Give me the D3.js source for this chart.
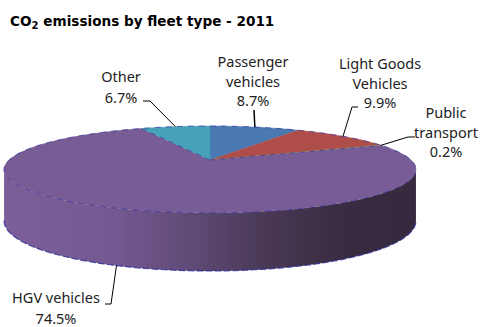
<!DOCTYPE html>
<html>
<head>
<meta charset="utf-8">
<script src="https://cdn.jsdelivr.net/npm/d3@7"></script>
<style>
  html, body { margin: 0; padding: 0; background: #fff; }
  svg { display: block; }
  text { font-family: "Noto Sans", sans-serif; font-size: 14.5px; fill: #222; }
  .title, .title tspan { font-family: "DejaVu Sans", sans-serif; font-weight: 700; font-size: 13.6px; fill: #000; }
</style>
</head>
<body>
<script>
// Share of CO2 emissions per fleet type, clockwise from twelve o'clock
const categories = ["Passenger vehicles", "Light Goods Vehicles", "Public transport", "HGV vehicles", "Other"];
const shares = [8.7, 9.9, 0.2, 74.5, 6.7];
const colours = ["#4b7ab3", "#ae4d49", "#8a9a4f", "#775c96", "#47a1b9"];

// Label text lines for each slice
const labelLines = [
  ["Passenger", "vehicles", "8.7%"],
  ["Light Goods", "Vehicles", "9.9%"],
  ["Public", "transport", "0.2%"],
  ["HGV vehicles", "74.5%"],
  ["Other", "6.7%"]
];
// Where each label block sits: centre x, first baseline y
const labelX = [253, 380, 446, 56, 121];
const labelY = [67, 69, 118, 303, 82];
// Leader line elbow: text end, then bend
const elbowA = [[254, 110], [358, 107], [415, 137], [105, 304], [143, 101]];
const elbowB = [[254, 110], [352, 107], [408, 137], [111, 304], [150, 101]];

const width = 480, height = 327;
const svg = d3.select("body").append("svg").attr("width", width).attr("height", height);

// Tilted disc seen in perspective: the far side shrinks, the near side grows
const cx = 210, cy = 160, radiusX = 201, radiusY = 41.4, persp = 0.218;
const project = a => {
  const u = Math.sin(a), v = Math.cos(a), w = 1 + persp * v;
  return [cx + radiusX * u / w, cy - radiusY * v / w];
};
const rimDepth = d3.scaleLinear().domain([-1, -0.2]).range([58, 51]).clamp(true);
const projectBase = a => {
  const [x, y] = project(a);
  return [x, y + rimDepth(Math.cos(a))];
};

const line = d3.line();
const arcPoints = (a0, a1, fn) => {
  const n = Math.max(2, Math.ceil(Math.abs(a1 - a0) / 0.02));
  return d3.range(n + 1).map(i => fn(a0 + (a1 - a0) * i / n));
};

const slices = d3.pie().sort(null).value(d => d)(shares);

// Visible rim runs between the two silhouette angles of the disc
const rimStart = Math.acos(-persp), rimEnd = 2 * Math.PI - rimStart;

const defs = svg.append("defs");
const grad = defs.append("linearGradient")
  .attr("id", "rimShade").attr("gradientUnits", "userSpaceOnUse")
  .attr("x1", 5).attr("x2", 417).attr("y1", 0).attr("y2", 0);
[[0, "#7a5f98"], [0.27, "#745892"], [0.47, "#5d4973"], [0.62, "#4a3a58"], [0.82, "#392b40"], [1, "#362a3e"]]
  .forEach(([o, c]) => grad.append("stop").attr("offset", o).attr("stop-color", c));

// Rim wall
const rimTop = arcPoints(rimStart, rimEnd, project);
const rimBase = arcPoints(rimEnd, rimStart, projectBase);
svg.append("path")
  .attr("d", line(rimTop.concat(rimBase)) + "Z")
  .attr("fill", "url(#rimShade)");
svg.append("path")
  .attr("d", line(rimBase))
  .attr("fill", "none").attr("stroke", "#2a2a96").attr("stroke-width", 1.2)
  .attr("stroke-dasharray", "7 2").attr("stroke-opacity", 0.8);

// Top face slices
svg.append("g").selectAll("path").data(slices).join("path")
  .attr("d", d => line([[cx, cy]].concat(arcPoints(d.startAngle, d.endAngle, project))) + "Z")
  .attr("fill", (d, i) => colours[i])
  .attr("stroke", (d, i) => colours[i]).attr("stroke-width", 0.4);

// Navy flecks along the slice edges and outer rim
svg.append("path")
  .attr("d", line(arcPoints(0, 2 * Math.PI, project)))
  .attr("fill", "none").attr("stroke", "#2f2f9c").attr("stroke-width", 1)
  .attr("stroke-dasharray", "6 5").attr("stroke-opacity", 0.65);
svg.append("g").selectAll("path").data(slices.slice(2, 4)).join("path")
  .attr("d", d => line([[cx, cy], project(d.endAngle)]))
  .attr("fill", "none").attr("stroke", "#2f2f9c").attr("stroke-width", 0.9)
  .attr("stroke-dasharray", "5 5").attr("stroke-opacity", 0.7);

// Leader lines end at each slice's mid-angle on the disc edge
const leaderEnd = (d, i) => {
  const mid = (d.startAngle + d.endAngle) / 2;
  return categories[i] === "HGV vehicles" ? projectBase(mid) : project(mid);
};
svg.append("g").selectAll("path").data(slices).join("path")
  .attr("d", (d, i) => line([elbowA[i], elbowB[i], leaderEnd(d, i)]))
  .attr("fill", "none").attr("stroke", "#000").attr("stroke-width", (d, i) => i === 0 ? 1.5 : 1);

// Slice labels
const labels = svg.append("g").selectAll("text").data(labelLines).join("text")
  .attr("text-anchor", "middle")
  .attr("transform", (d, i) => `translate(${labelX[i]},${labelY[i]})`);
labels.selectAll("tspan").data(d => d).join("tspan")
  .attr("x", 0).attr("y", (d, i, nodes) => {
    return i * (nodes.length === 2 ? (nodes[0].textContent === "Other" ? 19 : 21) : 19.5);
  })
  .text(d => d);

// Chart title with subscript
const title = svg.append("text").attr("class", "title").attr("x", 10).attr("y", 26);
title.append("tspan").text("CO");
title.append("tspan").attr("dy", 3).style("font-size", "10px").text("2");
title.append("tspan").attr("dy", -3).text(" emissions by fleet type - 2011");
</script>
</body>
</html>
